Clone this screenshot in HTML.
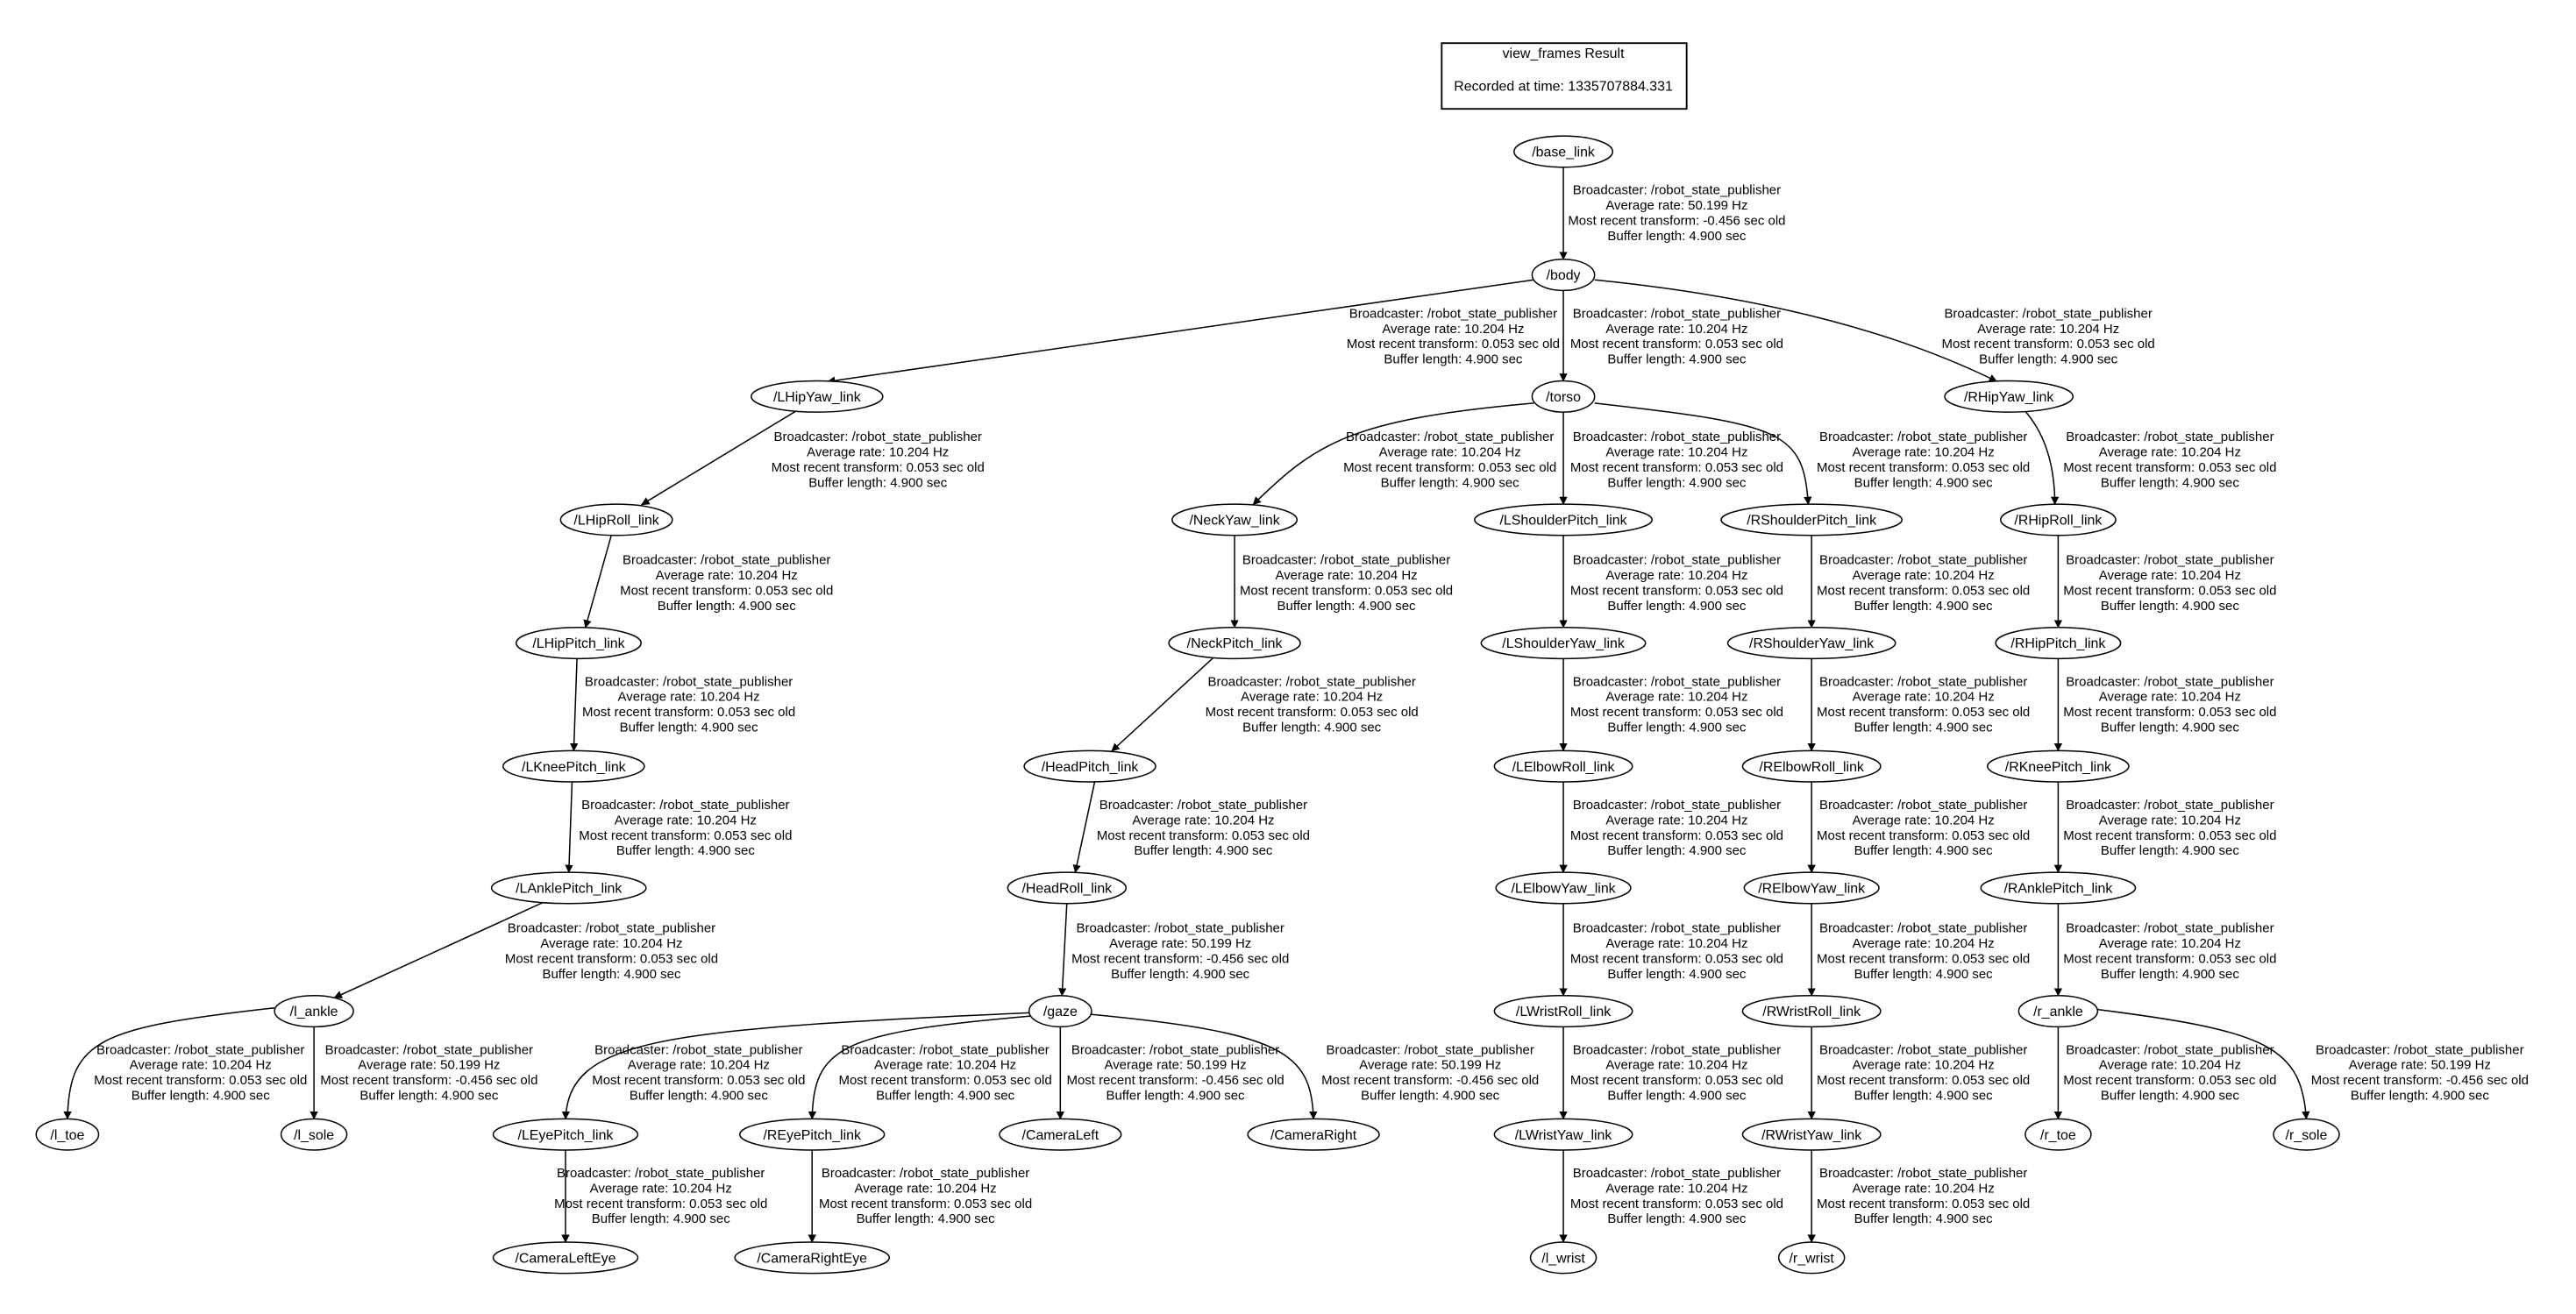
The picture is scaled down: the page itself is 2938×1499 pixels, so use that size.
<!DOCTYPE html>
<html><head><meta charset="utf-8"><style>
html,body{margin:0;padding:0;background:#fff;}
svg{display:block;}
text{font-family:"Liberation Sans","DejaVu Sans",sans-serif;fill:#000;}
.l{font-size:8px;text-anchor:middle;}
.n{font-size:8.5px;text-anchor:middle;}
.e{fill:none;stroke:#000;stroke-width:0.8;}
.o{fill:#fff;stroke:#000;stroke-width:0.8;}
</style></head><body>
<svg width="2938" height="1499" viewBox="0 0 1567 799" xmlns="http://www.w3.org/2000/svg">
<defs><marker id="a" viewBox="0 0 10 10" refX="10" refY="5" markerWidth="5" markerHeight="5" orient="auto" markerUnits="userSpaceOnUse"><path d="M0,0 L10,5 L0,10 z" fill="#000"/></marker></defs>
<rect x="877" y="26" width="149" height="40" fill="#fff" stroke="#000" stroke-width="1"/>
<text class="n" x="951" y="35">view_frames Result</text>
<text class="n" x="951" y="55">Recorded at time: 1335707884.331</text>

<g class="e" marker-end="url(#a)">
<path d="M951,101 L951,158"/>
<path d="M933,170 L503,232"/>
<path d="M951,176 L951,232"/>
<path d="M970,170 Q1120,185 1215,232"/>
<path d="M484,250 L390,307"/>
<path d="M933,245 C820,255 800,270 762,307"/>
<path d="M951,250 L951,307"/>
<path d="M970,245 C1085,258 1097,262 1100,307"/>
<path d="M1232,250 C1245,265 1250,285 1250,307"/>
<path d="M372,325 L356,382"/>
<path d="M751,325 L751,382"/>
<path d="M951,325 L951,382"/>
<path d="M1102,325 L1102,382"/>
<path d="M1252,325 L1252,382"/>
<path d="M351,400 L349,457"/>
<path d="M738,400 L676,457"/>
<path d="M951,400 L951,457"/>
<path d="M1102,400 L1102,457"/>
<path d="M1252,400 L1252,457"/>
<path d="M348,475 L346,531"/>
<path d="M666,475 L654,531"/>
<path d="M951,475 L951,531"/>
<path d="M1102,475 L1102,531"/>
<path d="M1252,475 L1252,531"/>
<path d="M330,549 L203,607"/>
<path d="M649,549 L646,606"/>
<path d="M951,549 L951,606"/>
<path d="M1102,549 L1102,606"/>
<path d="M1252,549 L1252,606"/>
<path d="M167,613 C60,625 42,632 41,681"/>
<path d="M191,624 L191,681"/>
<path d="M626,616 C400,626 346,632 344,681"/>
<path d="M627,618 C510,628 495,637 494,681"/>
<path d="M645,624 L645,681"/>
<path d="M664,617 C780,628 798,640 799,681"/>
<path d="M951,624 L951,681"/>
<path d="M1102,624 L1102,681"/>
<path d="M1252,624 L1252,681"/>
<path d="M1276,614 C1380,627 1400,637 1403,681"/>
<path d="M344,699 L344,756"/>
<path d="M494,699 L494,756"/>
<path d="M951,699 L951,756"/>
<path d="M1102,699 L1102,756"/>
</g>

<g>
<ellipse class="o" cx="951" cy="92" rx="30" ry="9.5"/><text class="n" x="951" y="95">/base_link</text>
<ellipse class="o" cx="951" cy="167" rx="19" ry="9.5"/><text class="n" x="951" y="170">/body</text>
<ellipse class="o" cx="497" cy="241" rx="40" ry="9.5"/><text class="n" x="497" y="244">/LHipYaw_link</text>
<ellipse class="o" cx="951" cy="241" rx="19" ry="9.5"/><text class="n" x="951" y="244">/torso</text>
<ellipse class="o" cx="1222" cy="241" rx="39" ry="9.5"/><text class="n" x="1222" y="244">/RHipYaw_link</text>
<ellipse class="o" cx="375" cy="316" rx="34" ry="9.5"/><text class="n" x="375" y="319">/LHipRoll_link</text>
<ellipse class="o" cx="751" cy="316" rx="38" ry="9.5"/><text class="n" x="751" y="319">/NeckYaw_link</text>
<ellipse class="o" cx="951" cy="316" rx="54" ry="9.5"/><text class="n" x="951" y="319">/LShoulderPitch_link</text>
<ellipse class="o" cx="1102" cy="316" rx="55" ry="9.5"/><text class="n" x="1102" y="319">/RShoulderPitch_link</text>
<ellipse class="o" cx="1252" cy="316" rx="35" ry="9.5"/><text class="n" x="1252" y="319">/RHipRoll_link</text>
<ellipse class="o" cx="352" cy="391" rx="38" ry="9.5"/><text class="n" x="352" y="394">/LHipPitch_link</text>
<ellipse class="o" cx="751" cy="391" rx="40" ry="9.5"/><text class="n" x="751" y="394">/NeckPitch_link</text>
<ellipse class="o" cx="951" cy="391" rx="50" ry="9.5"/><text class="n" x="951" y="394">/LShoulderYaw_link</text>
<ellipse class="o" cx="1102" cy="391" rx="51" ry="9.5"/><text class="n" x="1102" y="394">/RShoulderYaw_link</text>
<ellipse class="o" cx="1252" cy="391" rx="38" ry="9.5"/><text class="n" x="1252" y="394">/RHipPitch_link</text>
<ellipse class="o" cx="349" cy="466" rx="43" ry="9.5"/><text class="n" x="349" y="469">/LKneePitch_link</text>
<ellipse class="o" cx="663" cy="466" rx="40" ry="9.5"/><text class="n" x="663" y="469">/HeadPitch_link</text>
<ellipse class="o" cx="951" cy="466" rx="42" ry="9.5"/><text class="n" x="951" y="469">/LElbowRoll_link</text>
<ellipse class="o" cx="1102" cy="466" rx="42" ry="9.5"/><text class="n" x="1102" y="469">/RElbowRoll_link</text>
<ellipse class="o" cx="1252" cy="466" rx="43" ry="9.5"/><text class="n" x="1252" y="469">/RKneePitch_link</text>
<ellipse class="o" cx="346" cy="540" rx="47" ry="9.5"/><text class="n" x="346" y="543">/LAnklePitch_link</text>
<ellipse class="o" cx="649" cy="540" rx="36" ry="9.5"/><text class="n" x="649" y="543">/HeadRoll_link</text>
<ellipse class="o" cx="951" cy="540" rx="41" ry="9.5"/><text class="n" x="951" y="543">/LElbowYaw_link</text>
<ellipse class="o" cx="1102" cy="540" rx="41" ry="9.5"/><text class="n" x="1102" y="543">/RElbowYaw_link</text>
<ellipse class="o" cx="1252" cy="540" rx="47" ry="9.5"/><text class="n" x="1252" y="543">/RAnklePitch_link</text>
<ellipse class="o" cx="191" cy="615" rx="24" ry="9.5"/><text class="n" x="191" y="618">/l_ankle</text>
<ellipse class="o" cx="645" cy="615" rx="19" ry="9.5"/><text class="n" x="645" y="618">/gaze</text>
<ellipse class="o" cx="951" cy="615" rx="42" ry="9.5"/><text class="n" x="951" y="618">/LWristRoll_link</text>
<ellipse class="o" cx="1102" cy="615" rx="42" ry="9.5"/><text class="n" x="1102" y="618">/RWristRoll_link</text>
<ellipse class="o" cx="1252" cy="615" rx="24" ry="9.5"/><text class="n" x="1252" y="618">/r_ankle</text>
<ellipse class="o" cx="41" cy="690" rx="19" ry="9.5"/><text class="n" x="41" y="693">/l_toe</text>
<ellipse class="o" cx="191" cy="690" rx="20" ry="9.5"/><text class="n" x="191" y="693">/l_sole</text>
<ellipse class="o" cx="344" cy="690" rx="44" ry="9.5"/><text class="n" x="344" y="693">/LEyePitch_link</text>
<ellipse class="o" cx="494" cy="690" rx="44" ry="9.5"/><text class="n" x="494" y="693">/REyePitch_link</text>
<ellipse class="o" cx="645" cy="690" rx="37" ry="9.5"/><text class="n" x="645" y="693">/CameraLeft</text>
<ellipse class="o" cx="799" cy="690" rx="40" ry="9.5"/><text class="n" x="799" y="693">/CameraRight</text>
<ellipse class="o" cx="951" cy="690" rx="42" ry="9.5"/><text class="n" x="951" y="693">/LWristYaw_link</text>
<ellipse class="o" cx="1102" cy="690" rx="42" ry="9.5"/><text class="n" x="1102" y="693">/RWristYaw_link</text>
<ellipse class="o" cx="1252" cy="690" rx="20" ry="9.5"/><text class="n" x="1252" y="693">/r_toe</text>
<ellipse class="o" cx="1403" cy="690" rx="20" ry="9.5"/><text class="n" x="1403" y="693">/r_sole</text>
<ellipse class="o" cx="344" cy="765" rx="44" ry="9.5"/><text class="n" x="344" y="768">/CameraLeftEye</text>
<ellipse class="o" cx="494" cy="765" rx="47" ry="9.5"/><text class="n" x="494" y="768">/CameraRightEye</text>
<ellipse class="o" cx="951" cy="765" rx="20" ry="9.5"/><text class="n" x="951" y="768">/l_wrist</text>
<ellipse class="o" cx="1102" cy="765" rx="20" ry="9.5"/><text class="n" x="1102" y="768">/r_wrist</text>
</g>

<g class="l">
<text x="1020" y="118">Broadcaster: /robot_state_publisher</text><text x="1020" y="127.3">Average rate: 50.199 Hz</text><text x="1020" y="136.6">Most recent transform: -0.456 sec old</text><text x="1020" y="145.9">Buffer length: 4.900 sec</text>

<text x="884" y="193">Broadcaster: /robot_state_publisher</text><text x="884" y="202.3">Average rate: 10.204 Hz</text><text x="884" y="211.6">Most recent transform: 0.053 sec old</text><text x="884" y="220.9">Buffer length: 4.900 sec</text>
<text x="1020" y="193">Broadcaster: /robot_state_publisher</text><text x="1020" y="202.3">Average rate: 10.204 Hz</text><text x="1020" y="211.6">Most recent transform: 0.053 sec old</text><text x="1020" y="220.9">Buffer length: 4.900 sec</text>
<text x="1246" y="193">Broadcaster: /robot_state_publisher</text><text x="1246" y="202.3">Average rate: 10.204 Hz</text><text x="1246" y="211.6">Most recent transform: 0.053 sec old</text><text x="1246" y="220.9">Buffer length: 4.900 sec</text>

<text x="534" y="268">Broadcaster: /robot_state_publisher</text><text x="534" y="277.3">Average rate: 10.204 Hz</text><text x="534" y="286.6">Most recent transform: 0.053 sec old</text><text x="534" y="295.9">Buffer length: 4.900 sec</text>
<text x="882" y="268">Broadcaster: /robot_state_publisher</text><text x="882" y="277.3">Average rate: 10.204 Hz</text><text x="882" y="286.6">Most recent transform: 0.053 sec old</text><text x="882" y="295.9">Buffer length: 4.900 sec</text>
<text x="1020" y="268">Broadcaster: /robot_state_publisher</text><text x="1020" y="277.3">Average rate: 10.204 Hz</text><text x="1020" y="286.6">Most recent transform: 0.053 sec old</text><text x="1020" y="295.9">Buffer length: 4.900 sec</text>
<text x="1170" y="268">Broadcaster: /robot_state_publisher</text><text x="1170" y="277.3">Average rate: 10.204 Hz</text><text x="1170" y="286.6">Most recent transform: 0.053 sec old</text><text x="1170" y="295.9">Buffer length: 4.900 sec</text>
<text x="1320" y="268">Broadcaster: /robot_state_publisher</text><text x="1320" y="277.3">Average rate: 10.204 Hz</text><text x="1320" y="286.6">Most recent transform: 0.053 sec old</text><text x="1320" y="295.9">Buffer length: 4.900 sec</text>

<text x="442" y="343">Broadcaster: /robot_state_publisher</text><text x="442" y="352.3">Average rate: 10.204 Hz</text><text x="442" y="361.6">Most recent transform: 0.053 sec old</text><text x="442" y="370.9">Buffer length: 4.900 sec</text>
<text x="819" y="343">Broadcaster: /robot_state_publisher</text><text x="819" y="352.3">Average rate: 10.204 Hz</text><text x="819" y="361.6">Most recent transform: 0.053 sec old</text><text x="819" y="370.9">Buffer length: 4.900 sec</text>
<text x="1020" y="343">Broadcaster: /robot_state_publisher</text><text x="1020" y="352.3">Average rate: 10.204 Hz</text><text x="1020" y="361.6">Most recent transform: 0.053 sec old</text><text x="1020" y="370.9">Buffer length: 4.900 sec</text>
<text x="1170" y="343">Broadcaster: /robot_state_publisher</text><text x="1170" y="352.3">Average rate: 10.204 Hz</text><text x="1170" y="361.6">Most recent transform: 0.053 sec old</text><text x="1170" y="370.9">Buffer length: 4.900 sec</text>
<text x="1320" y="343">Broadcaster: /robot_state_publisher</text><text x="1320" y="352.3">Average rate: 10.204 Hz</text><text x="1320" y="361.6">Most recent transform: 0.053 sec old</text><text x="1320" y="370.9">Buffer length: 4.900 sec</text>

<text x="419" y="417">Broadcaster: /robot_state_publisher</text><text x="419" y="426.3">Average rate: 10.204 Hz</text><text x="419" y="435.6">Most recent transform: 0.053 sec old</text><text x="419" y="444.9">Buffer length: 4.900 sec</text>
<text x="798" y="417">Broadcaster: /robot_state_publisher</text><text x="798" y="426.3">Average rate: 10.204 Hz</text><text x="798" y="435.6">Most recent transform: 0.053 sec old</text><text x="798" y="444.9">Buffer length: 4.900 sec</text>
<text x="1020" y="417">Broadcaster: /robot_state_publisher</text><text x="1020" y="426.3">Average rate: 10.204 Hz</text><text x="1020" y="435.6">Most recent transform: 0.053 sec old</text><text x="1020" y="444.9">Buffer length: 4.900 sec</text>
<text x="1170" y="417">Broadcaster: /robot_state_publisher</text><text x="1170" y="426.3">Average rate: 10.204 Hz</text><text x="1170" y="435.6">Most recent transform: 0.053 sec old</text><text x="1170" y="444.9">Buffer length: 4.900 sec</text>
<text x="1320" y="417">Broadcaster: /robot_state_publisher</text><text x="1320" y="426.3">Average rate: 10.204 Hz</text><text x="1320" y="435.6">Most recent transform: 0.053 sec old</text><text x="1320" y="444.9">Buffer length: 4.900 sec</text>

<text x="417" y="492">Broadcaster: /robot_state_publisher</text><text x="417" y="501.3">Average rate: 10.204 Hz</text><text x="417" y="510.6">Most recent transform: 0.053 sec old</text><text x="417" y="519.9">Buffer length: 4.900 sec</text>
<text x="732" y="492">Broadcaster: /robot_state_publisher</text><text x="732" y="501.3">Average rate: 10.204 Hz</text><text x="732" y="510.6">Most recent transform: 0.053 sec old</text><text x="732" y="519.9">Buffer length: 4.900 sec</text>
<text x="1020" y="492">Broadcaster: /robot_state_publisher</text><text x="1020" y="501.3">Average rate: 10.204 Hz</text><text x="1020" y="510.6">Most recent transform: 0.053 sec old</text><text x="1020" y="519.9">Buffer length: 4.900 sec</text>
<text x="1170" y="492">Broadcaster: /robot_state_publisher</text><text x="1170" y="501.3">Average rate: 10.204 Hz</text><text x="1170" y="510.6">Most recent transform: 0.053 sec old</text><text x="1170" y="519.9">Buffer length: 4.900 sec</text>
<text x="1320" y="492">Broadcaster: /robot_state_publisher</text><text x="1320" y="501.3">Average rate: 10.204 Hz</text><text x="1320" y="510.6">Most recent transform: 0.053 sec old</text><text x="1320" y="519.9">Buffer length: 4.900 sec</text>

<text x="372" y="567">Broadcaster: /robot_state_publisher</text><text x="372" y="576.3">Average rate: 10.204 Hz</text><text x="372" y="585.6">Most recent transform: 0.053 sec old</text><text x="372" y="594.9">Buffer length: 4.900 sec</text>
<text x="718" y="567">Broadcaster: /robot_state_publisher</text><text x="718" y="576.3">Average rate: 50.199 Hz</text><text x="718" y="585.6">Most recent transform: -0.456 sec old</text><text x="718" y="594.9">Buffer length: 4.900 sec</text>
<text x="1020" y="567">Broadcaster: /robot_state_publisher</text><text x="1020" y="576.3">Average rate: 10.204 Hz</text><text x="1020" y="585.6">Most recent transform: 0.053 sec old</text><text x="1020" y="594.9">Buffer length: 4.900 sec</text>
<text x="1170" y="567">Broadcaster: /robot_state_publisher</text><text x="1170" y="576.3">Average rate: 10.204 Hz</text><text x="1170" y="585.6">Most recent transform: 0.053 sec old</text><text x="1170" y="594.9">Buffer length: 4.900 sec</text>
<text x="1320" y="567">Broadcaster: /robot_state_publisher</text><text x="1320" y="576.3">Average rate: 10.204 Hz</text><text x="1320" y="585.6">Most recent transform: 0.053 sec old</text><text x="1320" y="594.9">Buffer length: 4.900 sec</text>

<text x="122" y="641">Broadcaster: /robot_state_publisher</text><text x="122" y="650.3">Average rate: 10.204 Hz</text><text x="122" y="659.6">Most recent transform: 0.053 sec old</text><text x="122" y="668.9">Buffer length: 4.900 sec</text>
<text x="261" y="641">Broadcaster: /robot_state_publisher</text><text x="261" y="650.3">Average rate: 50.199 Hz</text><text x="261" y="659.6">Most recent transform: -0.456 sec old</text><text x="261" y="668.9">Buffer length: 4.900 sec</text>
<text x="425" y="641">Broadcaster: /robot_state_publisher</text><text x="425" y="650.3">Average rate: 10.204 Hz</text><text x="425" y="659.6">Most recent transform: 0.053 sec old</text><text x="425" y="668.9">Buffer length: 4.900 sec</text>
<text x="575" y="641">Broadcaster: /robot_state_publisher</text><text x="575" y="650.3">Average rate: 10.204 Hz</text><text x="575" y="659.6">Most recent transform: 0.053 sec old</text><text x="575" y="668.9">Buffer length: 4.900 sec</text>
<text x="715" y="641">Broadcaster: /robot_state_publisher</text><text x="715" y="650.3">Average rate: 50.199 Hz</text><text x="715" y="659.6">Most recent transform: -0.456 sec old</text><text x="715" y="668.9">Buffer length: 4.900 sec</text>
<text x="870" y="641">Broadcaster: /robot_state_publisher</text><text x="870" y="650.3">Average rate: 50.199 Hz</text><text x="870" y="659.6">Most recent transform: -0.456 sec old</text><text x="870" y="668.9">Buffer length: 4.900 sec</text>
<text x="1020" y="641">Broadcaster: /robot_state_publisher</text><text x="1020" y="650.3">Average rate: 10.204 Hz</text><text x="1020" y="659.6">Most recent transform: 0.053 sec old</text><text x="1020" y="668.9">Buffer length: 4.900 sec</text>
<text x="1170" y="641">Broadcaster: /robot_state_publisher</text><text x="1170" y="650.3">Average rate: 10.204 Hz</text><text x="1170" y="659.6">Most recent transform: 0.053 sec old</text><text x="1170" y="668.9">Buffer length: 4.900 sec</text>
<text x="1320" y="641">Broadcaster: /robot_state_publisher</text><text x="1320" y="650.3">Average rate: 10.204 Hz</text><text x="1320" y="659.6">Most recent transform: 0.053 sec old</text><text x="1320" y="668.9">Buffer length: 4.900 sec</text>
<text x="1472" y="641">Broadcaster: /robot_state_publisher</text><text x="1472" y="650.3">Average rate: 50.199 Hz</text><text x="1472" y="659.6">Most recent transform: -0.456 sec old</text><text x="1472" y="668.9">Buffer length: 4.900 sec</text>

<text x="402" y="716">Broadcaster: /robot_state_publisher</text><text x="402" y="725.3">Average rate: 10.204 Hz</text><text x="402" y="734.6">Most recent transform: 0.053 sec old</text><text x="402" y="743.9">Buffer length: 4.900 sec</text>
<text x="563" y="716">Broadcaster: /robot_state_publisher</text><text x="563" y="725.3">Average rate: 10.204 Hz</text><text x="563" y="734.6">Most recent transform: 0.053 sec old</text><text x="563" y="743.9">Buffer length: 4.900 sec</text>
<text x="1020" y="716">Broadcaster: /robot_state_publisher</text><text x="1020" y="725.3">Average rate: 10.204 Hz</text><text x="1020" y="734.6">Most recent transform: 0.053 sec old</text><text x="1020" y="743.9">Buffer length: 4.900 sec</text>
<text x="1170" y="716">Broadcaster: /robot_state_publisher</text><text x="1170" y="725.3">Average rate: 10.204 Hz</text><text x="1170" y="734.6">Most recent transform: 0.053 sec old</text><text x="1170" y="743.9">Buffer length: 4.900 sec</text>
</g>
</svg>
</body></html>
